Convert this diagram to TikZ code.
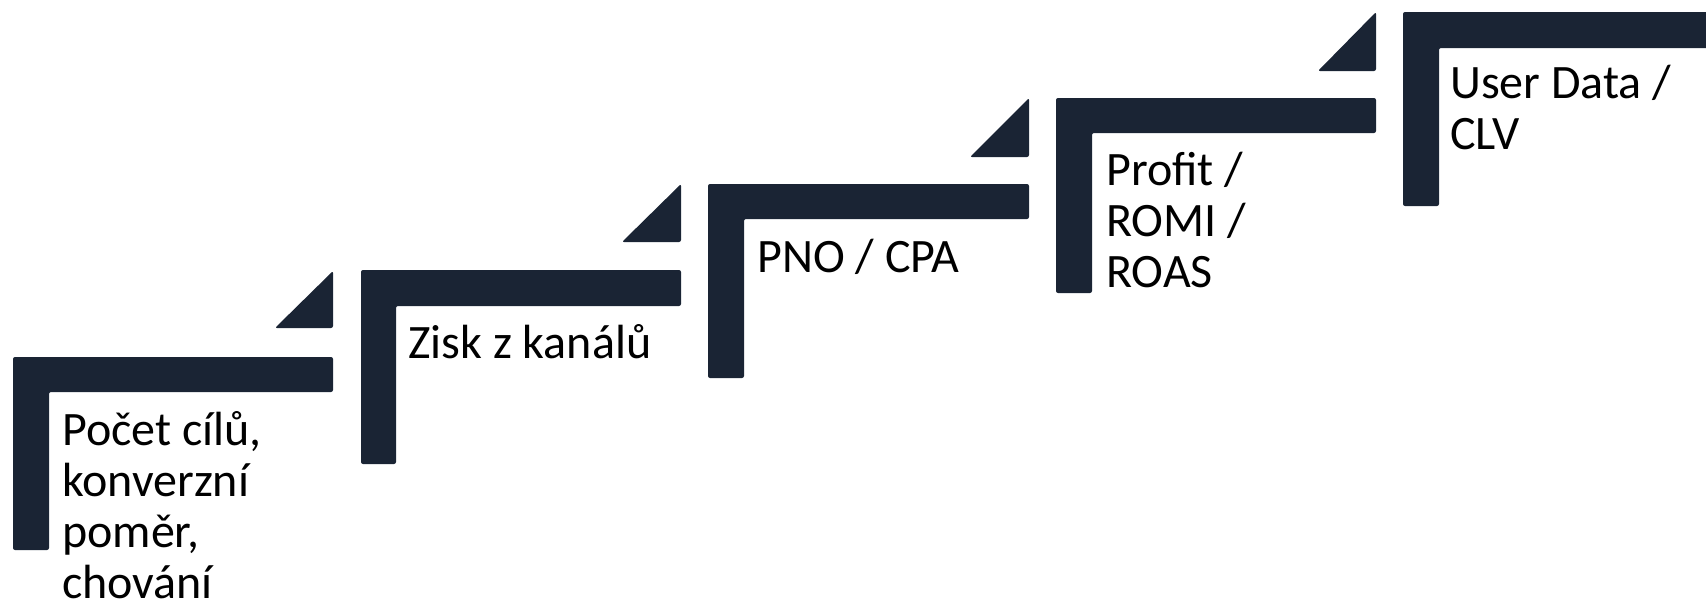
\documentclass[tikz,border=0pt]{standalone}
\usepackage{fontspec}
\setmainfont{Carlito}
\definecolor{navy}{RGB}{26,36,52}
\tikzset{
  stairbar/.style={fill=navy, draw=none, rounded corners=2pt},
  label/.style={anchor=base west, inner sep=0pt, align=left, text=black,
    text depth=0pt, font=\fontsize{48}{51}\selectfont}
}
\begin{document}
\begin{tikzpicture}[x=1pt,y=-1pt]
\useasboundingbox (0,0) rectangle (1706,608);
\clip (0,0) rectangle (1706,608);
% step 1
\fill[stairbar] (13,357) -- (333,357) -- (333,392) -- (49,392) -- (49,550) -- (13,550) -- cycle;
\fill[stairbar] (333,271) -- (333,328) -- (275,328) -- cycle;
\node[label] (t1) at (62,598) {Počet cílů,\\konverzní\\poměr,\\chování};
% step 2
\fill[stairbar] (361,270) -- (681,270) -- (681,306) -- (396,306) -- (396,464) -- (361,464) -- cycle;
\fill[stairbar] (681,184) -- (681,242) -- (622,242) -- cycle;
\node[label] (t2) at (408,358) {Zisk z kanálů};
% step 3
\fill[stairbar] (708,184) -- (1029,184) -- (1029,219) -- (744,219) -- (744,378) -- (708,378) -- cycle;
\fill[stairbar] (1029,98) -- (1029,157) -- (970,157) -- cycle;
\node[label] (t3) at (757,272) {PNO / CPA};
% step 4
\fill[stairbar] (1056,98) -- (1376,98) -- (1376,133) -- (1092,133) -- (1092,293) -- (1056,293) -- cycle;
\fill[stairbar] (1376,12) -- (1376,71) -- (1318,71) -- cycle;
\node[label] (t4) at (1106,287) {Profit /\\ROMI /\\ROAS};
% step 5
\fill[stairbar] (1403,12) -- (1720,12) -- (1720,48) -- (1439,48) -- (1439,206) -- (1403,206) -- cycle;
\node[label] (t5) at (1450,149) {User Data /\\CLV};
\end{tikzpicture}
\end{document}
